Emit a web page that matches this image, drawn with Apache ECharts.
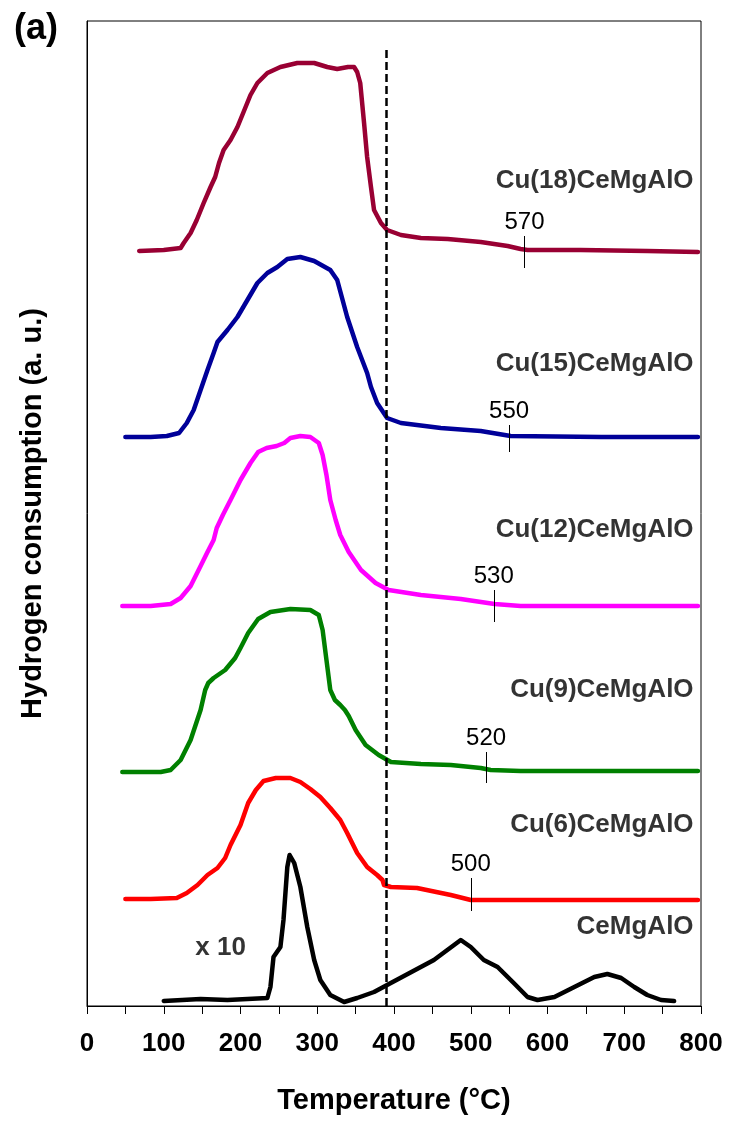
<!DOCTYPE html>
<html><head><meta charset="utf-8">
<script src="https://cdn.jsdelivr.net/npm/echarts/dist/echarts.min.js"></script>
<style>html,body{margin:0;padding:0;background:#fff}#c{width:732px;height:1121px}</style>
</head><body><div id="c"></div>
<script>
// Temperature (°C) vs hydrogen consumption (a.u., stacked offsets)
const cu18 = [[68,755],[100,756],[122,758],[126,763],[135,773],[143,786],[152,803],[161,819],[167,829],[172,843],[178,856],[187,866],[196,879],[204,894],[213,911],[222,923],[235,933],[252,939],[274,943],[296,943],[313,939],[326,937],[340,939],[348,939],[352,934],[356,923],[361,883],[365,849],[370,819],[374,796],[383,783],[391,776],[409,771],[435,768],[470,767],[513,764],[548,760],[565,757],[574,756],[643,756],[730,755],[796,754]];
const cu15 = [[50,569],[83,569],[104,570],[120,573],[130,583],[139,596],[148,616],[157,636],[165,653],[170,664],[183,676],[196,689],[209,706],[222,723],[235,733],[248,739],[261,747],[278,749],[296,745],[317,736],[326,726],[339,689],[352,659],[365,633],[370,619],[378,603],[391,588],[409,583],[461,578],[513,575],[552,570],[670,569],[796,569]];
const cu12 = [[46,400],[83,400],[109,402],[122,408],[135,420],[148,440],[157,454],[165,466],[169,478],[177,491],[187,506],[200,526],[213,543],[223,554],[234,558],[247,560],[257,563],[265,568],[278,570],[291,569],[302,563],[307,551],[312,531],[317,506],[324,486],[330,471],[341,454],[357,436],[376,423],[393,416],[435,411],[487,407],[531,402],[565,400],[670,400],[796,400]];
const cu9 = [[46,234],[96,234],[109,236],[122,246],[135,266],[148,296],[154,316],[158,323],[165,328],[180,336],[193,348],[200,358],[210,373],[223,387],[239,394],[265,397],[291,396],[302,391],[307,376],[312,346],[317,316],[323,306],[330,301],[336,296],[341,290],[350,276],[363,261],[380,251],[396,244],[435,242],[474,241],[513,238],[526,236],[565,235],[670,235],[796,235]];
const cu6 = [[50,107],[83,107],[117,108],[130,113],[144,121],[157,131],[170,138],[180,148],[187,161],[200,181],[210,203],[220,216],[230,225],[246,228],[265,228],[278,224],[291,217],[304,209],[317,198],[330,186],[339,173],[352,153],[365,139],[378,131],[385,126],[387,121],[396,119],[430,118],[474,111],[500,106],[539,106],[670,106],[796,106]];
const ceMgAlO = [[100,5],[148,7],[183,6],[235,8],[239,19],[243,49],[252,59],[256,86],[261,139],[264,151],[270,143],[278,119],[287,79],[296,46],[304,26],[317,11],[335,4],[352,8],[374,14],[391,21],[452,46],[487,66],[500,59],[517,46],[535,39],[556,23],[574,9],[587,6],[609,9],[635,19],[661,29],[678,32],[696,28],[713,19],[730,11],[748,6],[765,5]];

const seriesNames = ['Cu(18)CeMgAlO','Cu(15)CeMgAlO','Cu(12)CeMgAlO','Cu(9)CeMgAlO','Cu(6)CeMgAlO','CeMgAlO'];
const seriesData = [cu18, cu15, cu12, cu9, cu6, ceMgAlO];
const seriesColors = ['#990033','#000099','#FF00FF','#008000','#FF0000','#000000'];
const nameLabelY = [825,642,476,316,181,79];
const nameLabelX = 791;
const peakTemps = [570,550,530,520,500,null];
const peakSpans = [[738,770],[554,581],[384,416],[223,254],[95,128],null];
const dashedT = 390;
const dashedTop = 960;
const scaleNote = {text:'x 10', x:174, y:58};

const chart = echarts.init(document.getElementById('c'), null, {renderer:'canvas'});
const FONT = '"Liberation Sans", Arial, sans-serif';

const series = seriesData.map((d, i) => {
  const s = {
    name: seriesNames[i], type: 'line', data: d, symbol: 'none',
    smooth: false,
    lineStyle: {color: seriesColors[i], width: 4.5, cap: 'round', join: 'round'}, itemStyle:{color: seriesColors[i]},
    silent: true, z: 3
  };
  const ml = [];
  if (peakTemps[i] != null) {
    ml.push([{coord:[peakTemps[i], peakSpans[i][0]], name: String(peakTemps[i])},
             {coord:[peakTemps[i], peakSpans[i][1]]}]);
  }
  if (i === seriesData.length - 1) {
    ml.push([{coord:[dashedT, 0], name:'', lineStyle:{type:[8,4], width:2.5, color:'#000'}, label:{show:false}},
             {coord:[dashedT, dashedTop]}]);
  }
  s.markLine = {
    silent: true, symbol: ['none','none'], animation: false,
    lineStyle: {color:'#000', width: 1, type:'solid'},
    label: {show: true, position: 'end', distance: 2, formatter: p => p.name,
            fontFamily: FONT, fontSize: 24, color: '#000', fontWeight: 'normal'},
    data: ml
  };
  return s;
});

series.push({
  type: 'scatter', silent: true, symbolSize: 1, itemStyle: {color: 'rgba(0,0,0,0)'},
  data: seriesNames.map((n, i) => [nameLabelX, nameLabelY[i], n]),
  label: {show: true, position: 'left', distance: 0, formatter: p => p.data[2],
          fontFamily: FONT, fontSize: 26, fontWeight: 'bold', color: '#000'},
  z: 5
});
series.push({
  type: 'scatter', silent: true, symbolSize: 1, itemStyle: {color: 'rgba(0,0,0,0)'},
  data: [[scaleNote.x, scaleNote.y, scaleNote.text]],
  label: {show: true, position: 'inside', formatter: p => p.data[2],
          fontFamily: FONT, fontSize: 26, fontWeight: 'bold', color: '#000'},
  z: 5
});

chart.setOption({
  animation: false,
  backgroundColor: '#fff',
  title: {text: '(a)', left: 9, top: 6,
          textStyle: {fontFamily: FONT, fontSize: 36, fontWeight: 'bold', color: '#000'}},
  grid: {left: 87, right: 31, top: 21, bottom: 115, show: true, borderColor: '#000', borderWidth: 1, backgroundColor: 'transparent'},
  xAxis: {
    type: 'value', min: 0, max: 800, interval: 50,
    name: 'Temperature (°C)', nameLocation: 'middle', nameGap: 80,
    nameTextStyle: {fontFamily: FONT, fontSize: 29, fontWeight: 'bold', color: '#000'},
    axisLine: {show: true, onZero: false, lineStyle: {color: '#000', width: 1}},
    axisTick: {show: true, inside: false, length: 8, lineStyle: {color: '#000', width: 1}},
    axisLabel: {show: true, interval: 0, margin: 25, showMinLabel: true, showMaxLabel: true,
                formatter: v => (v % 100 === 0 ? String(v) : ''),
                fontFamily: FONT, fontSize: 26, fontWeight: 'bold', color: '#000'},
    splitLine: {show: false}
  },
  yAxis: {
    type: 'value', min: 0, max: 985,
    name: 'Hydrogen consumption (a. u.)', nameLocation: 'middle', nameGap: 40,
    nameTextStyle: {fontFamily: FONT, fontSize: 29, fontWeight: 'bold', color: '#000'},
    axisLine: {show: true, lineStyle: {color: '#000', width: 1}},
    axisTick: {show: false}, axisLabel: {show: false}, splitLine: {show: false}
  },
  series: series
});
</script>
</body></html>
